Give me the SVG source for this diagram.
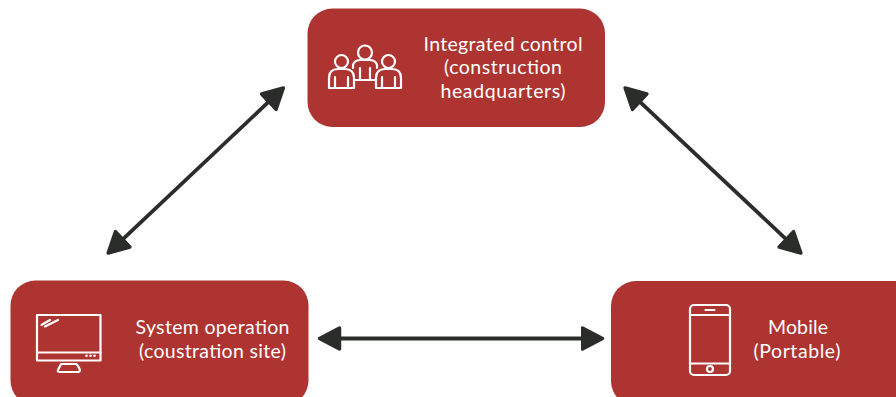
<svg xmlns="http://www.w3.org/2000/svg" width="896" height="397" viewBox="0 0 896 397">
<style>
.box{fill:#ae3431}
.label{font-family:Lato,"Open Sans","Liberation Sans",sans-serif;font-size:19.500px;fill:#fff;text-anchor:middle}
.icon{fill:none;stroke:#fff;stroke-width:2.200;stroke-linejoin:round;stroke-linecap:round}
.link{stroke:#2b2d2b;stroke-width:3.800;fill:none;marker-start:url(#head);marker-end:url(#head)}
</style>
<defs>
<marker id="head" markerUnits="userSpaceOnUse" viewBox="0 -14 26 28" markerWidth="26" markerHeight="28" refX="2" refY="0" orient="auto-start-reverse">
<path d="M2,-10.500 L22,0 L2,10.500 Z" fill="#2b2d2b" stroke="#2b2d2b" stroke-width="3.500" stroke-linejoin="round"/>
</marker>
</defs>
<rect width="896" height="397" fill="#fff"/>
<g id="connectors">
<line class="link" x1="268.800" y1="101.700" x2="122.700" y2="239.300"/>
<line class="link" x1="639.700" y1="101.700" x2="786.300" y2="239.300"/>
<line class="link" x1="339.500" y1="338.500" x2="582.500" y2="338.500"/>
</g>
<g id="node-integrated-control">
<rect class="box" x="307.500" y="8.500" width="297.500" height="118.500" rx="25"/>
<g class="icon">
<circle cx="365" cy="52.500" r="7"/>
<circle cx="341.500" cy="61.500" r="6.500"/>
<circle cx="388.500" cy="61.500" r="6.500"/>
<path d="M353,68 V65 Q354,60.500 360,60 H370 Q376,60.500 377,65 V68"/>
<path d="M329,88 V78 Q329,69 338,69 H345 Q354,69 354,78 V88 Z"/>
<path d="M376,88 V78 Q376,69 385,69 H392 Q401,69 401,78 V88 Z"/>
<path d="M335,88 V77 M348,88 V77 M382,88 V77 M395,88 V77 M360,68 V80 M370,68 V80 M354,80 H376"/>
</g>
<text class="label" x="503" y="50.500" textLength="159" lengthAdjust="spacing">Integrated control</text>
<text class="label" x="503" y="74" textLength="118" lengthAdjust="spacing">(construction</text>
<text class="label" x="503" y="97.500" textLength="125" lengthAdjust="spacing">headquarters)</text>
</g>
<g id="node-system-operation">
<rect class="box" x="10.500" y="280.500" width="298" height="125" rx="25"/>
<g class="icon">
<rect x="37" y="315" width="63.500" height="45.500"/>
<path d="M37,352.500 H100.500 M41.500,325 L50,320 M45,326.500 L58,320"/>
<path d="M61,364 H76 Q78,365 80,370 Q80,372 77,372 H60 Q57,372 58,370 Z"/>
</g>
<g fill="#fff"><circle cx="86.500" cy="355.700" r="1.300"/><circle cx="90.500" cy="355.700" r="1.300"/><circle cx="94.500" cy="355.700" r="1.300"/></g>
<text class="label" x="212.500" y="334" textLength="154" lengthAdjust="spacing">System operation</text>
<text class="label" x="212.500" y="358" textLength="147" lengthAdjust="spacing">(coustration site)</text>
</g>
<g id="node-mobile">
<rect class="box" x="611" y="281" width="310" height="125" rx="25"/>
<g class="icon">
<rect x="690" y="305" width="40" height="70" rx="4"/>
<path d="M690,315 H730 M690,363.500 H730 M705.500,310 H714.500"/>
<circle cx="710" cy="369" r="3"/>
</g>
<text class="label" x="798" y="334" textLength="60" lengthAdjust="spacing">Mobile</text>
<text class="label" x="797" y="358" textLength="87" lengthAdjust="spacing">(Portable)</text>
</g>
</svg>
